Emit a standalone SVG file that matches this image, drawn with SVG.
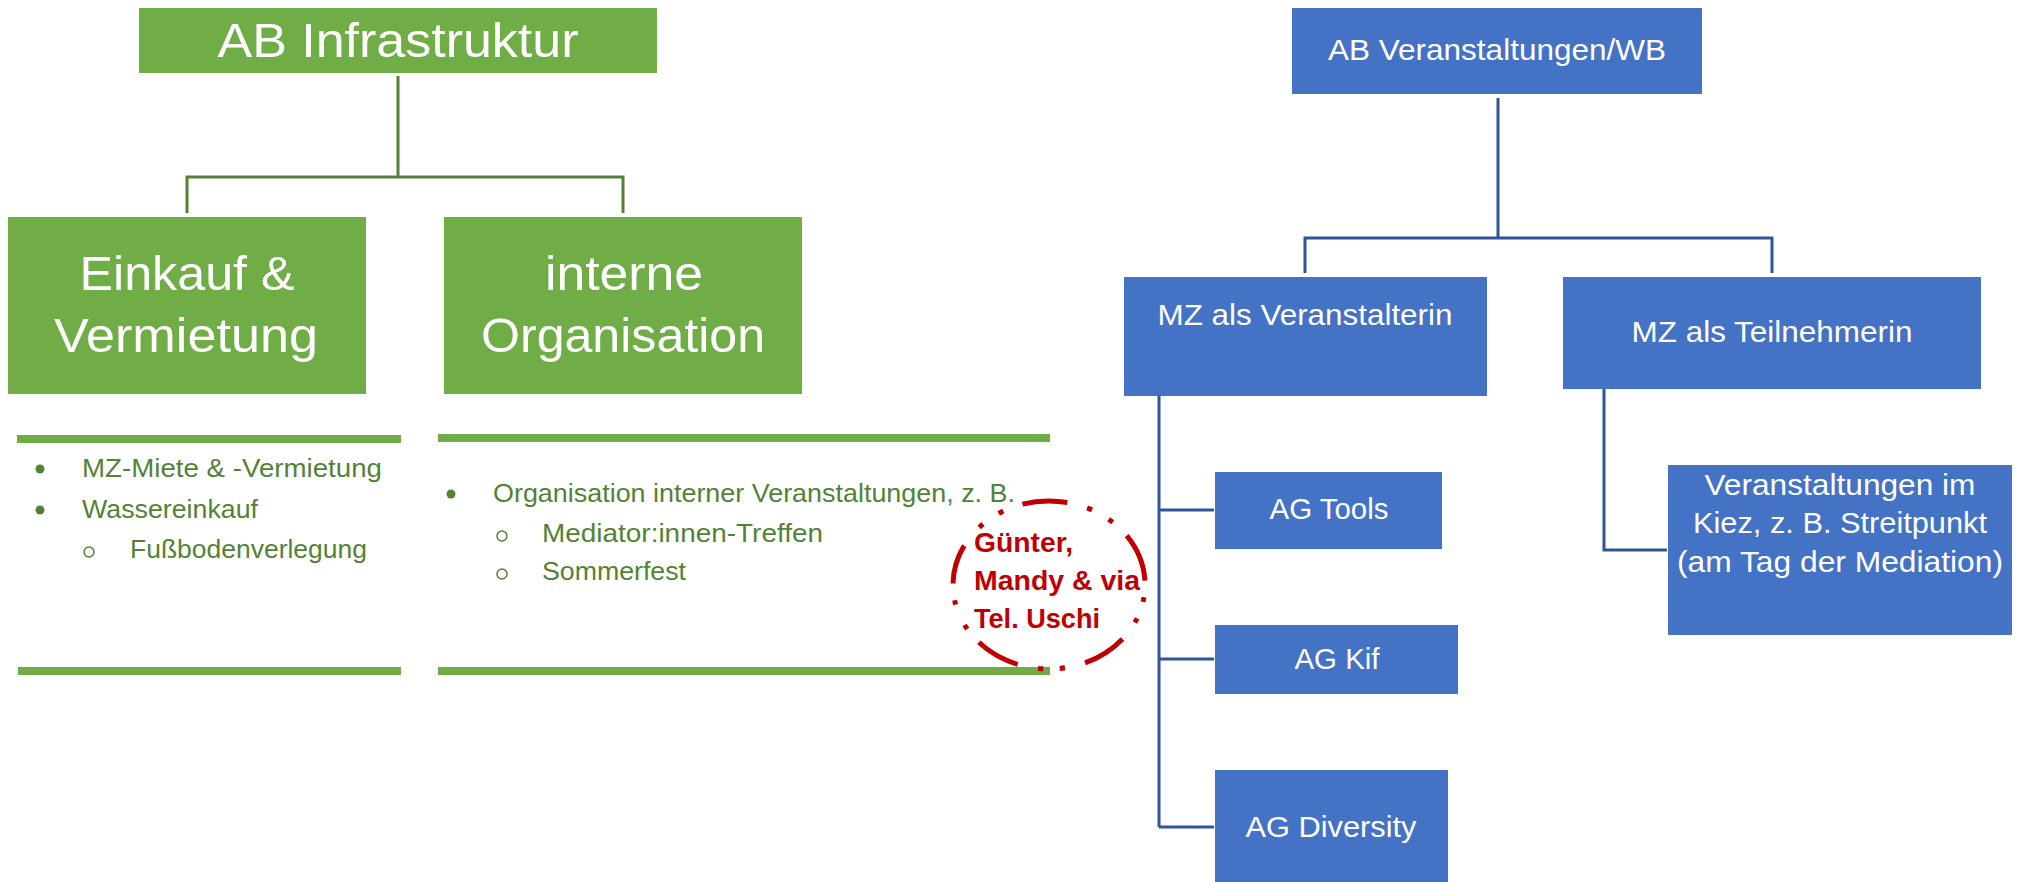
<svg xmlns="http://www.w3.org/2000/svg" width="2022" height="882" viewBox="0 0 2022 882">
<style>
.g{fill:#70AD47}
.b{fill:#4472C4}
.tw{fill:#fff;font-family:"Liberation Sans",Arial,sans-serif;text-anchor:middle}
.big{font-size:48px}
.mid{font-size:29px}
.lst{fill:#548235;font-family:"Liberation Sans",Arial,sans-serif;font-size:26px}
.red{fill:#C00000;font-family:"Liberation Sans",Arial,sans-serif;font-size:27px;font-weight:bold}
.cg{stroke:#548235;stroke-width:3;fill:none}
.cb{stroke:#2F5597;stroke-width:3;fill:none}
.ring{stroke:#C00000;stroke-width:5;fill:none;stroke-linecap:butt}
</style>
<rect width="2022" height="882" fill="#fff"/>
<g id="connectors">
  <path class="cg" d="M398 76 V177 M187 213 V177 H623 V213"/>
  <path class="cb" d="M1498 98 V238 M1305 273 V238 H1772 V273"/>
  <path class="cb" d="M1159 396 V827 M1159 510 H1214 M1159 659 H1214 M1159 827 H1214"/>
  <path class="cb" d="M1604 389 V550 H1667"/>
</g>
<g id="ab-infrastruktur">
  <rect class="g" x="139" y="8" width="518" height="65"/>
  <text class="tw big" x="398" y="57" textLength="361" lengthAdjust="spacingAndGlyphs">AB Infrastruktur</text>
</g>
<g id="einkauf-vermietung">
  <rect class="g" x="8" y="217" width="358" height="177"/>
  <text class="tw big" x="187" y="290" textLength="215" lengthAdjust="spacingAndGlyphs">Einkauf &amp;</text>
  <text class="tw big" x="186" y="352" textLength="264" lengthAdjust="spacingAndGlyphs">Vermietung</text>
</g>
<g id="interne-organisation">
  <rect class="g" x="444" y="217" width="358" height="177"/>
  <text class="tw big" x="624" y="290" textLength="158" lengthAdjust="spacingAndGlyphs">interne</text>
  <text class="tw big" x="623" y="352" textLength="284" lengthAdjust="spacingAndGlyphs">Organisation</text>
</g>
<g id="list-einkauf">
  <rect class="g" x="17" y="435" width="384" height="8"/>
  <rect class="g" x="18" y="667" width="383" height="8"/>
  <circle cx="40" cy="469" r="4.5" fill="#548235"/>
  <text class="lst" x="82" y="477" textLength="300" lengthAdjust="spacingAndGlyphs">MZ-Miete &amp; -Vermietung</text>
  <circle cx="40" cy="510" r="4.5" fill="#548235"/>
  <text class="lst" x="82" y="518" textLength="176" lengthAdjust="spacingAndGlyphs">Wassereinkauf</text>
  <circle cx="89" cy="552" r="5" fill="none" stroke="#548235" stroke-width="1.5"/>
  <text class="lst" x="130" y="558" textLength="237" lengthAdjust="spacingAndGlyphs">Fußbodenverlegung</text>
</g>
<g id="list-organisation">
  <rect class="g" x="438" y="434" width="612" height="8"/>
  <rect class="g" x="438" y="667" width="612" height="8"/>
  <circle cx="451" cy="494" r="4.5" fill="#548235"/>
  <text class="lst" x="493" y="502" textLength="522" lengthAdjust="spacingAndGlyphs">Organisation interner Veranstaltungen, z. B.</text>
  <circle cx="502" cy="536" r="5" fill="none" stroke="#548235" stroke-width="1.5"/>
  <text class="lst" x="542" y="542" textLength="281" lengthAdjust="spacingAndGlyphs">Mediator:innen-Treffen</text>
  <circle cx="502" cy="574" r="5" fill="none" stroke="#548235" stroke-width="1.5"/>
  <text class="lst" x="542" y="580" textLength="144" lengthAdjust="spacingAndGlyphs">Sommerfest</text>
</g>
<g id="annotation">
  <path class="ring" d="M1126.7 535.6 A96 84 0 0 1 1144.9 580.6
    M1144.0 597.3 A96 84 0 0 1 1143.0 601.9
    M1137.1 618.4 A96 84 0 0 1 1134.8 622.6
    M1122.5 639.0 A96 84 0 0 1 1085.0 662.9
    M1065.0 667.8 A96 84 0 0 1 1059.7 668.5
    M1043.3 668.8 A96 84 0 0 1 1038.0 668.4
    M1017.7 664.4 A96 84 0 0 1 978.8 642.3
    M967.2 629.0 A96 84 0 0 1 964.6 625.0
    M955.7 604.7 A96 84 0 0 1 954.6 600.2
    M953.0 583.5 A96 84 0 0 1 964.2 545.6
    M979.2 527.3 A96 84 0 0 1 983.0 524.0
    M998.7 513.5 A96 84 0 0 1 1003.3 511.1
    M1022.5 504.2 A96 84 0 0 1 1067.3 502.5
    M1087.1 507.9 A96 84 0 0 1 1092.0 509.9
    M1108.6 519.2 A96 84 0 0 1 1112.7 522.2"/>
  <text class="red" x="974" y="552" textLength="99" lengthAdjust="spacingAndGlyphs">Günter,</text>
  <text class="red" x="974" y="590" textLength="166" lengthAdjust="spacingAndGlyphs">Mandy &amp; via</text>
  <text class="red" x="974" y="628" textLength="126" lengthAdjust="spacingAndGlyphs">Tel. Uschi</text>
</g>
<g id="ab-veranstaltungen">
  <rect class="b" x="1292" y="8" width="410" height="86"/>
  <text class="tw mid" x="1497" y="60" textLength="338" lengthAdjust="spacingAndGlyphs">AB Veranstaltungen/WB</text>
</g>
<g id="mz-veranstalterin">
  <rect class="b" x="1124" y="277" width="363" height="119"/>
  <text class="tw mid" x="1305" y="325" textLength="295" lengthAdjust="spacingAndGlyphs">MZ als Veranstalterin</text>
</g>
<g id="mz-teilnehmerin">
  <rect class="b" x="1563" y="277" width="418" height="112"/>
  <text class="tw mid" x="1772" y="342" textLength="281" lengthAdjust="spacingAndGlyphs">MZ als Teilnehmerin</text>
</g>
<g id="ag-tools">
  <rect class="b" x="1215" y="472" width="227" height="77"/>
  <text class="tw mid" x="1329" y="519" textLength="119" lengthAdjust="spacingAndGlyphs">AG Tools</text>
</g>
<g id="ag-kif">
  <rect class="b" x="1215" y="625" width="243" height="69"/>
  <text class="tw mid" x="1337" y="669" textLength="85" lengthAdjust="spacingAndGlyphs">AG Kif</text>
</g>
<g id="ag-diversity">
  <rect class="b" x="1215" y="770" width="233" height="112"/>
  <text class="tw mid" x="1331" y="837" textLength="171" lengthAdjust="spacingAndGlyphs">AG Diversity</text>
</g>
<g id="veranstaltungen-kiez">
  <rect class="b" x="1668" y="465" width="344" height="170"/>
  <text class="tw mid" x="1840" y="495" textLength="271" lengthAdjust="spacingAndGlyphs">Veranstaltungen im</text>
  <text class="tw mid" x="1840" y="533" textLength="294" lengthAdjust="spacingAndGlyphs">Kiez, z. B. Streitpunkt</text>
  <text class="tw mid" x="1840" y="572" textLength="326" lengthAdjust="spacingAndGlyphs">(am Tag der Mediation)</text>
</g>
</svg>
